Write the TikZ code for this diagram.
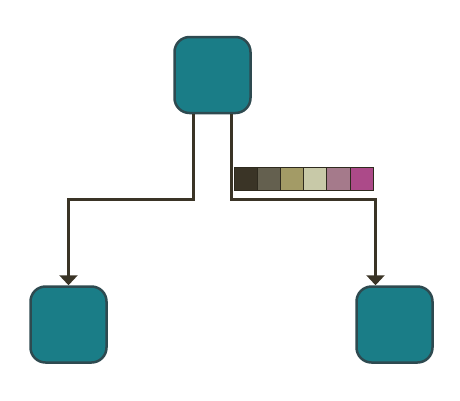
\documentclass[tikz,border=0pt]{standalone}
\usetikzlibrary{arrows.meta}
\definecolor{nodefill}{HTML}{1A7D87}
\definecolor{nodeedge}{HTML}{2E4A50}
\definecolor{linec}{HTML}{3A3426}
\definecolor{pa}{HTML}{3A3426}
\definecolor{pb}{HTML}{64604F}
\definecolor{pc}{HTML}{A39B66}
\definecolor{pd}{HTML}{C8C9A8}
\definecolor{pe}{HTML}{A57A8B}
\definecolor{pf}{HTML}{AC4A89}
\begin{document}
\begin{tikzpicture}[x=1pt,y=-1pt,
  box/.style={draw=nodeedge,fill=nodefill,line width=2.5pt,rounded corners=15pt,minimum width=76pt,minimum height=76pt,inner sep=0pt},
  conn/.style={draw=linec,line width=2.5pt},
  arr/.style={conn,-{Triangle[width=18pt,length=10pt]}},
  sw/.style={draw=linec!80!black,line width=0.8pt,minimum width=23.2pt,minimum height=23pt,inner sep=0pt,outer sep=0pt,anchor=north west}]
\useasboundingbox (0,0) rectangle (460,400);
\node[box] (top) at (212.5,75) {};
\node[box] (left) at (68.5,324.5) {};
\node[box] (right) at (394.5,324.5) {};
\coordinate (lt) at (193.3,114);
\coordinate (rt) at (231.5,114);
\draw[arr] (top.south -| lt) |- (68.5,199.5) -- (left.north);
\draw[arr] (top.south -| rt) |- (375.5,199.5) -- (left.north -| 375.5,0);
\node[sw,fill=pa] (s1) at (234,167.5) {};
\node[sw,fill=pb,anchor=west] (s2) at (s1.east) {};
\node[sw,fill=pc,anchor=west] (s3) at (s2.east) {};
\node[sw,fill=pd,anchor=west] (s4) at (s3.east) {};
\node[sw,fill=pe,anchor=west] (s5) at (s4.east) {};
\node[sw,fill=pf,anchor=west] (s6) at (s5.east) {};
\end{tikzpicture}
\end{document}
